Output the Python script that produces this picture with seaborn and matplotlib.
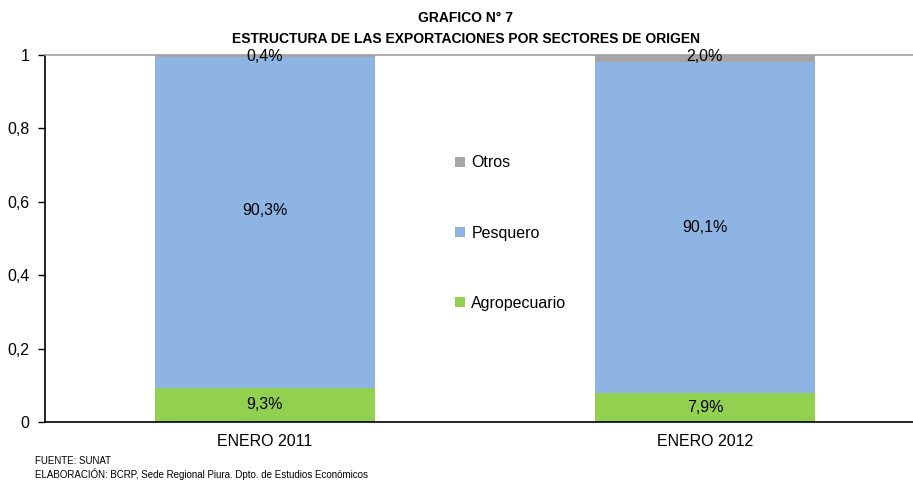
import numpy as np
import pandas as pd
import matplotlib
matplotlib.use("Agg")
import matplotlib.pyplot as plt
import seaborn as sns
from matplotlib.patches import Patch

# Datos (% de participación)
periodos = ["ENERO 2011", "ENERO 2012"]
agropecuario = [9.3, 7.9]
pesquero = [90.3, 90.1]
otros = [0.4, 2.0]

sectores = ["Otros", "Pesquero", "Agropecuario"]
colores = {"Agropecuario": "#92D050", "Pesquero": "#8DB4E2", "Otros": "#A6A6A6"}

df = pd.DataFrame({
    "periodo": periodos,
    "Agropecuario": np.array(agropecuario) / 100,
    "Pesquero": np.array(pesquero) / 100,
    "Otros": np.array(otros) / 100,
})
# acumulados para apilar con seaborn (se dibuja de arriba hacia abajo)
df["c_agro"] = df["Agropecuario"]
df["c_pesq"] = df["c_agro"] + df["Pesquero"]
df["c_otros"] = df["c_pesq"] + df["Otros"]

sns.set_style("white")
plt.rcParams["font.family"] = ["Liberation Sans", "DejaVu Sans"]
plt.rcParams["text.color"] = "black"
plt.rcParams["xtick.color"] = "black"
plt.rcParams["ytick.color"] = "black"

fig = plt.figure(figsize=(9.13, 4.83), dpi=100)
ax = fig.add_axes([0.0493, 0.1263, 0.9637, 0.7597])

for col, sector in [("c_otros", "Otros"), ("c_pesq", "Pesquero"), ("c_agro", "Agropecuario")]:
    sns.barplot(data=df, x="periodo", y=col, color=colores[sector], width=0.5,
                saturation=1, ax=ax, linewidth=0)

ax.set_xlim(-0.5, 1.5)
ax.set_ylim(0, 1)
ax.set_xlabel("")
ax.set_ylabel("")

# etiquetas de valores
desplaz = [0.033, 0.0]
for i, row in df.iterrows():
    ax.text(i, row["c_agro"] / 2, f"{agropecuario[i]:.1f}%".replace(".", ","),
            ha="center", va="center", fontsize=11.5)
    ax.text(i, row["c_agro"] + row["Pesquero"] / 2 + desplaz[i],
            f"{pesquero[i]:.1f}%".replace(".", ","),
            ha="center", va="center", fontsize=11.5)
    ax.text(i, 0.995, f"{otros[i]:.1f}%".replace(".", ","),
            ha="center", va="center", fontsize=11.5)

ax.set_yticks([0, 0.2, 0.4, 0.6, 0.8, 1.0])
ax.set_yticklabels(["0", "0,2", "0,4", "0,6", "0,8", "1"], fontsize=11.5)
ax.set_xticks([0, 1])
ax.set_xticklabels(periodos, fontsize=11.5)
ax.set_xticks([-0.5, 0.5, 1.5], minor=True)
ax.tick_params(axis="x", which="major", length=0, pad=9)
ax.tick_params(axis="x", which="minor", length=5, width=1, color="black", direction="out")
ax.tick_params(axis="y", length=5, width=1, color="black", direction="out", left=True, pad=6)

for s in ["left", "bottom"]:
    ax.spines[s].set_color("black")
    ax.spines[s].set_linewidth(1.2)
ax.spines["top"].set_color("#A0A0A0")
ax.spines["top"].set_linewidth(1.2)
ax.spines["right"].set_visible(False)

handles = [Patch(facecolor=colores[s], edgecolor="none", label=s) for s in sectores]
ax.legend(handles=handles, loc="center left", bbox_to_anchor=(0.45, 0.515),
          frameon=False, fontsize=11.5, handlelength=0.6, handleheight=0.6,
          handletextpad=0.4, labelspacing=3.45, labelcolor="black")

fig.text(0.51, 0.962, "GRAFICO N° 7", ha="center", va="center",
         fontsize=10, fontweight="bold")
fig.text(0.51, 0.92, "ESTRUCTURA DE LAS EXPORTACIONES POR SECTORES DE ORIGEN",
         ha="center", va="center", fontsize=10, fontweight="bold")

fig.text(0.038, 0.046, "FUENTE: SUNAT", fontsize=7, va="center")
fig.text(0.038, 0.018, "ELABORACIÓN: BCRP, Sede Regional Piura. Dpto. de Estudios Económicos",
         fontsize=7, va="center")

fig.savefig("out.png", dpi=100)
plt.close(fig)
